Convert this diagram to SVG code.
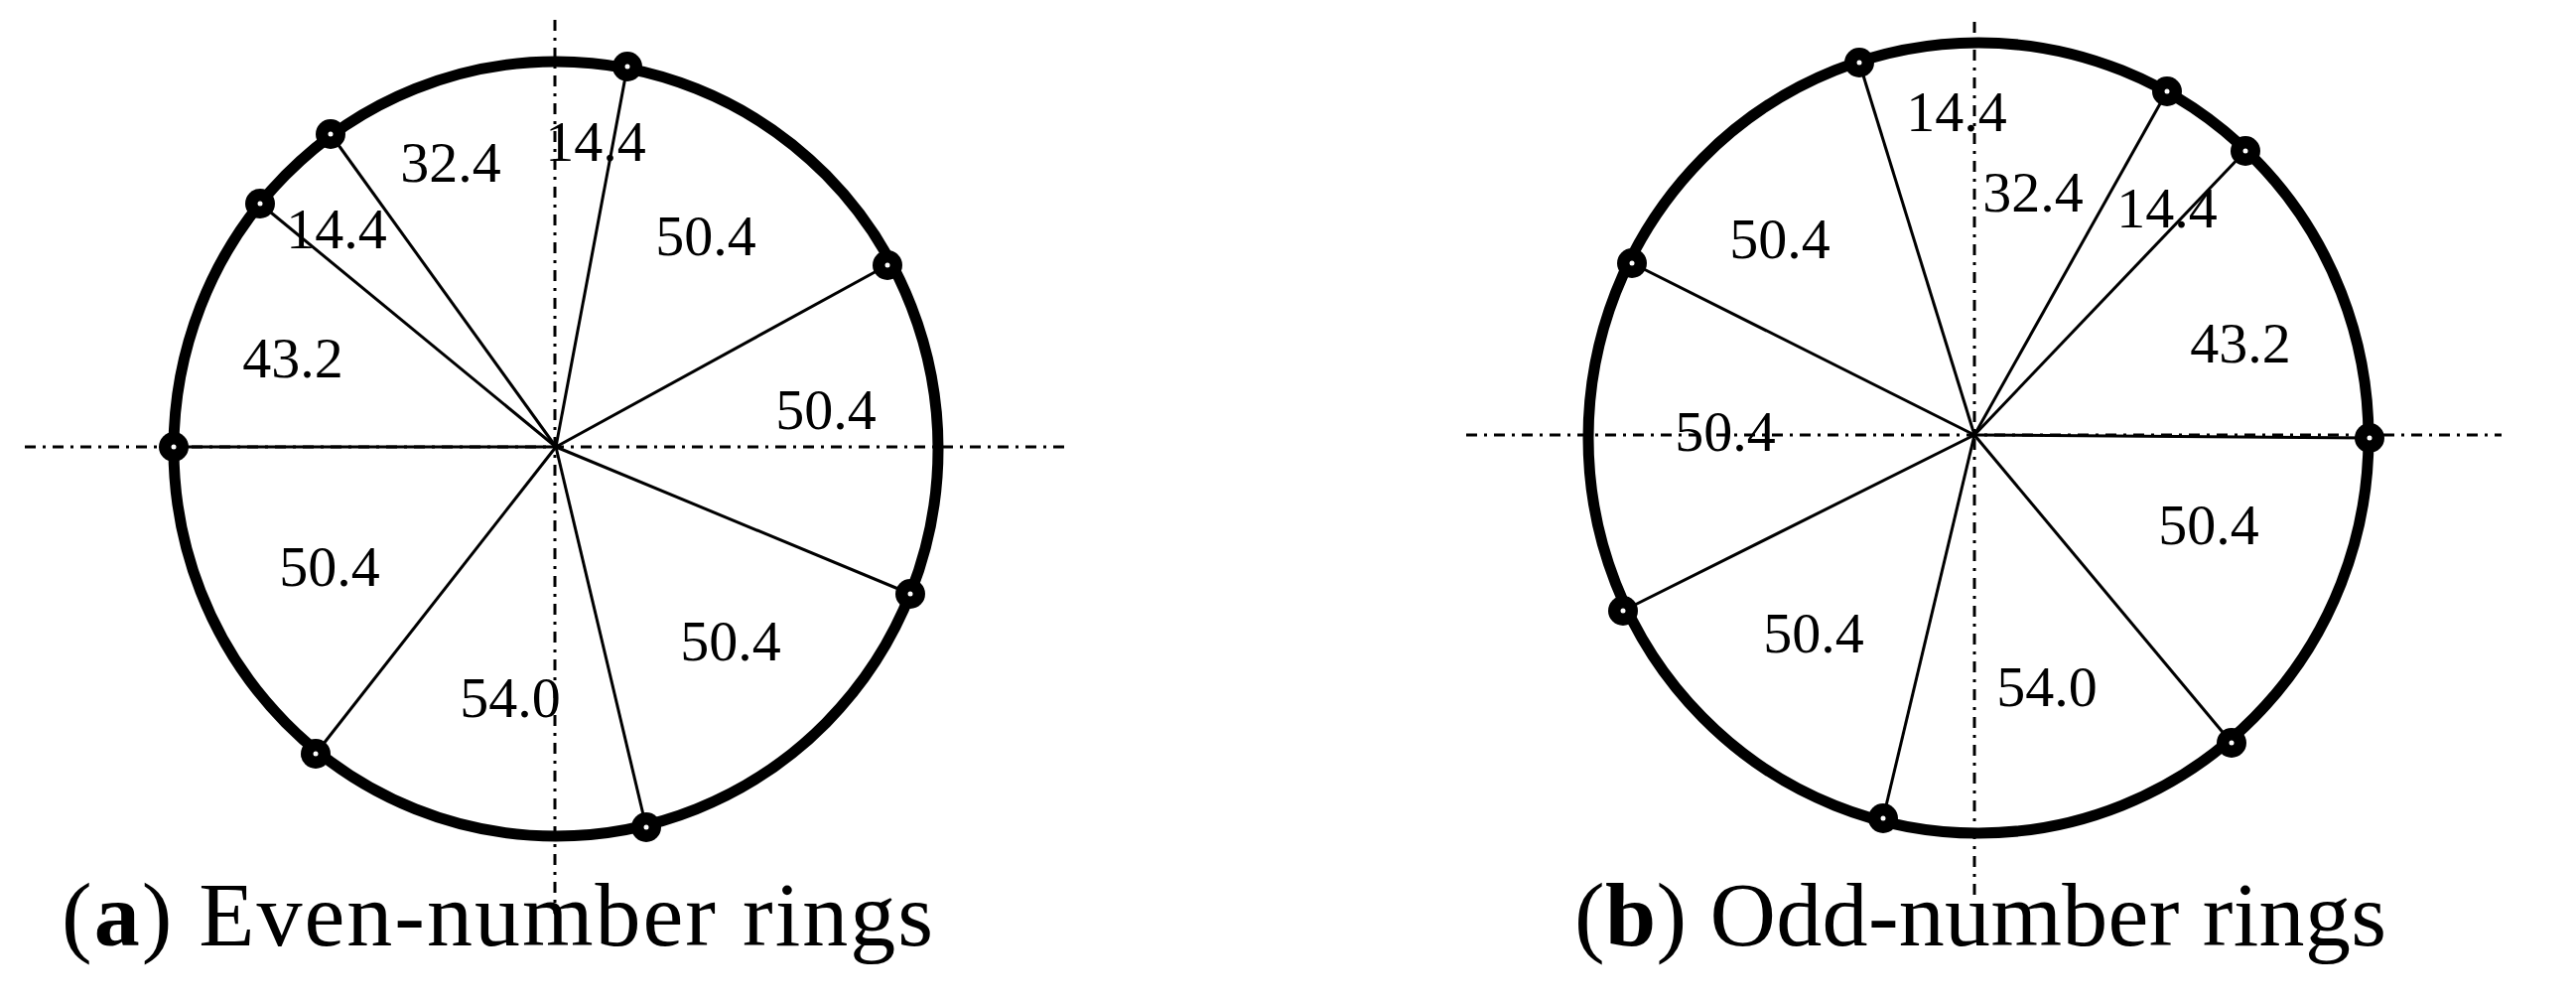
<svg xmlns="http://www.w3.org/2000/svg" width="2595" height="1012" viewBox="0 0 2595 1012">
<style>
.ring{fill:none;stroke:#000;stroke-width:11}
.spoke{stroke:#000;stroke-width:3;fill:none}
.axis{stroke:#000;stroke-width:3;stroke-dasharray:11 7 3 7;fill:none}
.node{fill:#000}
.hole{fill:#fff}
.lbl{font-family:"Liberation Serif","Times New Roman",serif;font-size:58px;text-anchor:middle;fill:#000}
.cap{font-family:"Liberation Serif","Times New Roman",serif;font-size:92px;fill:#000}
</style>
<defs>
<g id="pt"><circle r="15" class="node"/><circle r="2.5" class="hole"/></g>
</defs>
<rect width="2595" height="1012" fill="#fff"/>
<g id="axes">
<line class="axis" x1="559" y1="20" x2="559" y2="920"/>
<line class="axis" x1="25" y1="450" x2="1077" y2="450"/>
<line class="axis" x1="1989" y1="22" x2="1989" y2="905"/>
<line class="axis" x1="1477" y1="438" x2="2520" y2="438"/>
</g>
<g id="connectors">
<line class="spoke" x1="560" y1="450" x2="632" y2="67"/>
<line class="spoke" x1="560" y1="450" x2="894" y2="267"/>
<line class="spoke" x1="560" y1="450" x2="917" y2="598"/>
<line class="spoke" x1="560" y1="450" x2="651" y2="833"/>
<line class="spoke" x1="560" y1="450" x2="318" y2="759"/>
<line class="spoke" x1="560" y1="450" x2="175" y2="450"/>
<line class="spoke" x1="560" y1="450" x2="262" y2="205"/>
<line class="spoke" x1="560" y1="450" x2="333" y2="135"/>
<line class="spoke" x1="1989" y1="438" x2="1873" y2="63"/>
<line class="spoke" x1="1989" y1="438" x2="2183" y2="92"/>
<line class="spoke" x1="1989" y1="438" x2="2262" y2="152"/>
<line class="spoke" x1="1989" y1="438" x2="2387" y2="441"/>
<line class="spoke" x1="1989" y1="438" x2="2248" y2="748"/>
<line class="spoke" x1="1989" y1="438" x2="1897" y2="824"/>
<line class="spoke" x1="1989" y1="438" x2="1635" y2="615"/>
<line class="spoke" x1="1989" y1="438" x2="1644" y2="265"/>
</g>
<g id="ring-a"><ellipse class="ring" cx="560" cy="452" rx="385" ry="390"/></g>
<g id="ring-b"><ellipse class="ring" cx="1993" cy="441" rx="393" ry="398"/></g>
<g id="nodes-a">
<use href="#pt" x="632" y="67"/>
<use href="#pt" x="894" y="267"/>
<use href="#pt" x="917" y="598"/>
<use href="#pt" x="651" y="833"/>
<use href="#pt" x="318" y="759"/>
<use href="#pt" x="175" y="450"/>
<use href="#pt" x="262" y="205"/>
<use href="#pt" x="333" y="135"/>
</g>
<g id="nodes-b">
<use href="#pt" x="1873" y="63"/>
<use href="#pt" x="2183" y="92"/>
<use href="#pt" x="2262" y="152"/>
<use href="#pt" x="2387" y="441"/>
<use href="#pt" x="2248" y="748"/>
<use href="#pt" x="1897" y="824"/>
<use href="#pt" x="1635" y="615"/>
<use href="#pt" x="1644" y="265"/>
</g>
<g id="labels-a">
<text class="lbl" x="600" y="162">14.4</text>
<text class="lbl" x="454" y="183">32.4</text>
<text class="lbl" x="339" y="250">14.4</text>
<text class="lbl" x="711" y="257">50.4</text>
<text class="lbl" x="295" y="380">43.2</text>
<text class="lbl" x="832" y="432">50.4</text>
<text class="lbl" x="332" y="590">50.4</text>
<text class="lbl" x="736" y="665">50.4</text>
<text class="lbl" x="514" y="722">54.0</text>
</g>
<g id="labels-b">
<text class="lbl" x="1971" y="132">14.4</text>
<text class="lbl" x="2048" y="213">32.4</text>
<text class="lbl" x="2183" y="229">14.4</text>
<text class="lbl" x="1793" y="260">50.4</text>
<text class="lbl" x="2257" y="365">43.2</text>
<text class="lbl" x="1738" y="454">50.4</text>
<text class="lbl" x="2225" y="548">50.4</text>
<text class="lbl" x="1827" y="657">50.4</text>
<text class="lbl" x="2062" y="711">54.0</text>
</g>
<g id="captions">
<text class="cap" x="62" y="952" textLength="878">(<tspan font-weight="bold">a</tspan>) Even-number rings</text>
<text class="cap" x="1586" y="952" textLength="818">(<tspan font-weight="bold">b</tspan>) Odd-number rings</text>
</g>
</svg>
